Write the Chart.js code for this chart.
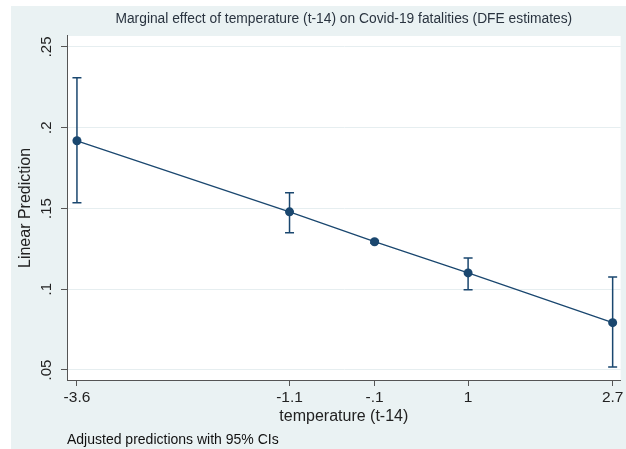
<!DOCTYPE html>
<html>
<head>
<meta charset="utf-8">
<script src="https://cdn.jsdelivr.net/npm/chart.js@4/dist/chart.umd.min.js"></script>
<style>
  html, body { margin: 0; padding: 0; background: #fff; }
  #wrap { width: 626px; height: 449px; position: relative; }
</style>
</head>
<body>
<div id="wrap"><canvas id="chart"></canvas></div>
<script>
// temperature (t-14) values and the adjusted predictions with 95% CIs
const temps = [-3.6, -1.1, -0.1, 1, 2.7];
const preds = [0.1919, 0.1479, 0.1294, 0.1101, 0.0793];
const ciLow = [0.1535, 0.1349, 0.1286, 0.0996, 0.0519];
const ciHigh = [0.2309, 0.1597, 0.1302, 0.1194, 0.1076];

const xTicks = [-3.6, -1.1, -0.1, 1, 2.7];
const xTickLabels = ['-3.6', '-1.1', '-.1', '1', '2.7'];
const yTicks = [0.05, 0.1, 0.15, 0.2, 0.25];
const yTickLabels = ['.05', '.1', '.15', '.2', '.25'];

const NAVY = '#1a476f';
const PANEL = '#eaf2f3';
const FONT = '"Liberation Sans", Arial, sans-serif';

const background = {
    id: 'background',
    beforeDraw(chart) {
        const { ctx, chartArea: a } = chart;
        ctx.save();
        ctx.fillStyle = '#fff';
        ctx.fillRect(0, 0, chart.width, chart.height);
        ctx.fillStyle = PANEL;
        ctx.fillRect(11, 6, chart.width - 11, chart.height - 6);
        ctx.fillStyle = '#fff';
        ctx.fillRect(a.left, a.top, a.right - a.left, a.bottom - a.top);
        ctx.restore();
    }
};

const errorBars = {
    id: 'errorBars',
    beforeDatasetsDraw(chart) {
        const { ctx, scales: { x, y } } = chart;
        ctx.save();
        ctx.strokeStyle = NAVY;
        ctx.lineWidth = 1.5;
        temps.forEach((t, i) => {
            const px = x.getPixelForValue(t);
            const lo = y.getPixelForValue(ciLow[i]);
            const hi = y.getPixelForValue(ciHigh[i]);
            ctx.beginPath();
            ctx.moveTo(px, lo); ctx.lineTo(px, hi);
            ctx.moveTo(px - 4.5, lo); ctx.lineTo(px + 4.5, lo);
            ctx.moveTo(px - 4.5, hi); ctx.lineTo(px + 4.5, hi);
            ctx.stroke();
        });
        ctx.restore();
    }
};

// Stata-style y tick labels, rotated 90 degrees
const yLabels = {
    id: 'yLabels',
    afterDraw(chart) {
        const { ctx, scales: { y } } = chart;
        ctx.save();
        ctx.fillStyle = '#222';
        ctx.font = '15px ' + FONT;
        ctx.textAlign = 'center';
        ctx.textBaseline = 'middle';
        yTicks.forEach((v, i) => {
            ctx.save();
            ctx.translate(47, y.getPixelForValue(v));
            ctx.rotate(-Math.PI / 2);
            ctx.fillText(yTickLabels[i], 0, 0);
            ctx.restore();
        });
        ctx.restore();
    }
};

new Chart(document.getElementById('chart'), {
    type: 'line',
    data: {
        datasets: [{
            data: temps.map((t, i) => ({ x: t, y: preds[i] })),
            borderColor: NAVY,
            borderWidth: 1.3,
            backgroundColor: NAVY,
            pointBackgroundColor: NAVY,
            pointBorderWidth: 0,
            pointRadius: 4.5,
            tension: 0,
            fill: false
        }]
    },
    options: {
        responsive: true,
        maintainAspectRatio: false,
        animation: false,
        layout: { padding: { top: 6, right: 3, bottom: 0, left: 0 } },
        plugins: {
            legend: { display: false },
            tooltip: { enabled: false },
            title: {
                display: true,
                fullSize: false,
                text: 'Marginal effect of temperature (t-14) on Covid-19 fatalities (DFE estimates)',
                color: '#2a3440',
                font: { family: FONT, size: 13.8, weight: 'normal' },
                padding: { top: 4.7, bottom: 8.7 }
            },
            subtitle: {
                display: true,
                fullSize: false,
                position: 'bottom',
                align: 'start',
                text: 'Adjusted predictions with 95% CIs',
                color: '#111',
                font: { family: FONT, size: 14 },
                padding: { top: 4, bottom: 0 }
            }
        },
        scales: {
            x: {
                type: 'linear',
                min: -3.717,
                max: 2.794,
                afterBuildTicks: s => { s.ticks = xTicks.map(v => ({ value: v })); },
                afterFit: s => { s.height = 48.2; },
                border: { color: '#555', width: 1 },
                grid: { drawOnChartArea: false, tickColor: '#555', tickLength: 6 },
                ticks: {
                    color: '#222',
                    padding: 2.5,
                    maxRotation: 0,
                    font: { family: FONT, size: 15.5 },
                    callback: (v, i) => xTickLabels[i]
                },
                title: {
                    display: true,
                    text: 'temperature (t-14)',
                    color: '#222',
                    font: { family: FONT, size: 16 },
                    padding: { top: 0, bottom: 2.2 }
                }
            },
            y: {
                min: 0.0438,
                max: 0.2568,
                afterBuildTicks: s => { s.ticks = yTicks.map(v => ({ value: v })); },
                afterFit: s => { s.width = 67; },
                border: { color: '#555', width: 1 },
                grid: { color: '#e6eef0', tickColor: '#555', tickLength: 6 },
                ticks: {
                    color: 'rgba(0,0,0,0)',
                    font: { family: FONT, size: 14 },
                    callback: (v, i) => yTickLabels[i]
                },
                title: {
                    display: true,
                    text: 'Linear Prediction',
                    color: '#222',
                    font: { family: FONT, size: 16 },
                    padding: { top: 16.4, bottom: 0 }
                }
            }
        }
    },
    plugins: [background, errorBars, yLabels]
});
</script>
</body>
</html>
